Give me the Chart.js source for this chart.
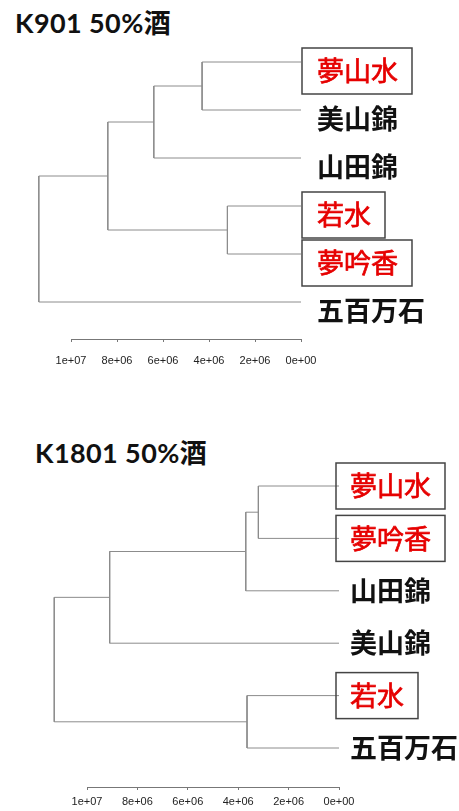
<!DOCTYPE html>
<html>
<head>
<meta charset="utf-8">
<title>K901 / K1801 50%酒</title>
<script src="https://cdn.jsdelivr.net/npm/chart.js@4.4.1/dist/chart.umd.min.js"></script>
<style>
    body {
        margin: 0;
        background: #fff;
        width: 459px;
        height: 811px;
        position: relative;
        overflow: hidden;
    }
    canvas {
        position: absolute;
        left: 0;
    }
    .tree-title {
        position: absolute;
        margin: 0;
        font: bold 27px Lato, "Noto Sans CJK JP", sans-serif;
        letter-spacing: 0.4px;
        line-height: 27px;
        color: #111;
        white-space: nowrap;
    }
</style>
</head>
<body>
<div class="tree-title" style="left:15px;top:9px;">K901 50%酒</div>
<canvas id="tree-k901" width="459" height="405" style="top:0;"></canvas>
<div class="tree-title" style="left:35px;top:439px;">K1801 50%酒</div>
<canvas id="tree-k1801" width="459" height="391" style="top:420px;"></canvas>

<script>
// Leaf order (top to bottom), boxed/red flags and R-style merge tables.
// Negative refs are leaves (1-based), positive refs are earlier merges.
const k901Leaves = ['夢山水', '美山錦', '山田錦', '若水', '夢吟香', '五百万石'];
const k901Boxed = [true, false, false, true, true, false];
const k901Merge = [[-1, -2], [1, -3], [-4, -5], [2, 3], [4, -6]];
const k901Heights = [4.3e6, 6.4e6, 3.2e6, 8.4e6, 11.4e6];

const k1801Leaves = ['夢山水', '夢吟香', '山田錦', '美山錦', '若水', '五百万石'];
const k1801Boxed = [true, true, false, false, true, false];
const k1801Merge = [[-1, -2], [1, -3], [2, -4], [-5, -6], [3, 4]];
const k1801Heights = [3.2e6, 3.7e6, 9.1e6, 3.65e6, 11.3e6];

// Height axis ticks
const axisTicks = [1e7, 8e6, 6e6, 4e6, 2e6, 0];

// R prints axis values like 8e+06
function sciLabel(v) {
    if (v === 0) return '0e+00';
    const exp = Math.floor(Math.log10(v) + 1e-9);
    const mant = Math.round(v / Math.pow(10, exp));
    return mant + 'e+' + String(exp).padStart(2, '0');
}

// Turn the merge table into one bracket (4 points) per merge
function buildSegments(merge, heights) {
    const nodeY = [];
    const pos = ref => ref < 0
        ? { y: -ref - 1, h: 0 }
        : { y: nodeY[ref - 1], h: heights[ref - 1] };

    return merge.map(([a, b], i) => {
        const l = pos(a);
        const r = pos(b);
        nodeY[i] = (l.y + r.y) / 2;
        return [
            { x: l.h, y: l.y },
            { x: heights[i], y: l.y },
            { x: heights[i], y: r.y },
            { x: r.h, y: r.y }
        ];
    });
}

// Leaf names on the right, red ones get a frame
const leafLabels = {
    id: 'leafLabels',
    afterDraw(chart, args, opts) {
        const { ctx, chartArea, scales } = chart;
        ctx.save();
        ctx.textBaseline = 'middle';
        ctx.textAlign = 'left';
        opts.names.forEach((name, i) => {
            const boxed = opts.boxed[i];
            const y = scales.y.getPixelForValue(i) + opts.dy;
            const x = chartArea.right + opts.textDx;
            ctx.font = (boxed ? '' : 'bold ') + '27px "Noto Sans CJK JP", sans-serif';
            ctx.fillStyle = boxed ? '#e60000' : '#111';
            ctx.fillText(name, x, y);
            if (boxed) {
                // a touch heavier than the regular face
                ctx.strokeStyle = '#e60000';
                ctx.lineWidth = 0.7;
                ctx.strokeText(name, x, y);

                const left = chartArea.right + opts.boxDx;
                const w = x + ctx.measureText(name).width + opts.boxPadRight - left;
                ctx.strokeStyle = '#444';
                ctx.lineWidth = 1.5;
                ctx.strokeRect(left, y - 23, w, 46);
            }
        });
        ctx.restore();
    }
};

function makeTree(canvasId, leaves, boxed, merge, heights, box) {
    const canvas = document.getElementById(canvasId);
    const areaBottom = canvas.height - box.axisHeight;

    const datasets = buildSegments(merge, heights).map(points => ({
        data: points,
        showLine: true,
        pointRadius: 0,
        borderColor: '#8c8c8c',
        borderWidth: 1,
        clip: false
    }));

    return new Chart(canvas, {
        type: 'scatter',
        data: { datasets: datasets },
        options: {
            responsive: false,
            animation: false,
            events: [],
            layout: {
                padding: { left: box.left, right: canvas.width - box.right, top: box.areaTop, bottom: 0 }
            },
            plugins: {
                legend: { display: false },
                tooltip: { enabled: false },
                leafLabels: {
                    names: leaves,
                    boxed: boxed,
                    textDx: box.textDx,
                    boxDx: box.boxDx,
                    boxPadRight: 14,
                    dy: box.dy
                }
            },
            scales: {
                x: {
                    type: 'linear',
                    reverse: true,
                    min: 0,
                    max: 1e7,
                    afterBuildTicks: scale => {
                        scale.ticks = axisTicks.map(v => ({ value: v }));
                    },
                    afterFit: scale => {
                        scale.height = box.axisHeight;
                    },
                    ticks: {
                        callback: v => sciLabel(v),
                        color: '#222',
                        padding: box.tickPad,
                        maxRotation: 0,
                        font: { family: '"Liberation Sans", Arial, sans-serif', size: 11 }
                    },
                    grid: {
                        drawOnChartArea: false,
                        drawTicks: true,
                        tickLength: 3,
                        color: '#777'
                    },
                    border: { display: true, color: '#777', width: 1 }
                },
                y: {
                    display: false,
                    reverse: true,
                    min: (box.areaTop - box.leafTop) / box.leafGap,
                    max: (areaBottom - box.leafTop) / box.leafGap
                }
            }
        },
        plugins: [leafLabels]
    });
}

makeTree('tree-k901', k901Leaves, k901Boxed, k901Merge, k901Heights, {
    left: 71, right: 301, areaTop: 40, leafTop: 62, leafGap: 48,
    axisHeight: 66, tickPad: 12, textDx: 16, boxDx: 1, dy: 9
});

makeTree('tree-k1801', k1801Leaves, k1801Boxed, k1801Merge, k1801Heights, {
    left: 87, right: 339, areaTop: 30, leafTop: 66, leafGap: 52.4,
    axisHeight: 24, tickPad: 5, textDx: 11, boxDx: -3, dy: 0
});
</script>
</body>
</html>
